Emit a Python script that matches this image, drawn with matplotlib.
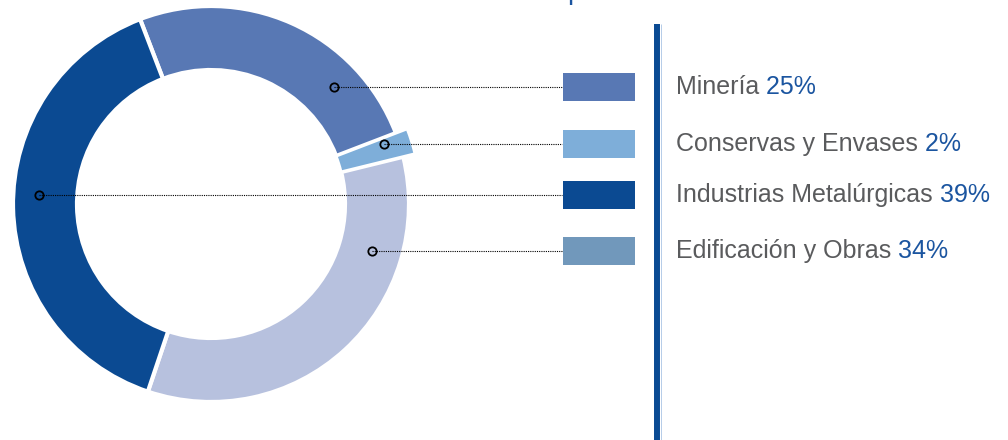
import numpy as np
from matplotlib import pyplot as plt
from matplotlib.patches import Rectangle

plt.rcParams['font.family'] = ['Liberation Sans', 'DejaVu Sans']

# datos (orden de la leyenda)
categorias = ['Minería', 'Conservas y Envases', 'Industrias Metalúrgicas', 'Edificación y Obras']
porcentajes = [25, 2, 39, 34]
# orden en el anillo (sentido horario desde arriba)
orden_anillo = [0, 1, 3, 2]

col_anillo = ['#5878b4', '#7eaed9', '#0b4a92', '#b7c1de']
col_leyenda = ['#5878b4', '#7eaed9', '#0b4a92', '#7198bb']
gris = '#5a5b5d'
azul = '#1b55a0'

fig = plt.figure(figsize=(10.08, 4.4), dpi=100)
ax = fig.add_axes([0, 0, 1, 1])

H = 440
cx, cy = 211, H - 204
R, ancho = 198, 64

vals = [porcentajes[i] for i in orden_anillo]
cols = [col_anillo[i] for i in orden_anillo]
explode = [0, 3, 0, 0]
wedges, _ = ax.pie(vals, colors=cols, startangle=111, counterclock=False,
                   radius=R, center=(cx, cy), explode=explode, frame=True,
                   wedgeprops=dict(width=ancho, edgecolor='white', linewidth=3))
# Conservas sobresale del anillo
w = wedges[1]
w.set_radius(R + 9)
w.set_width(ancho + 12)
w.set_linewidth(2)
w.set_zorder(3)

# leyenda
filas = [87, 144, 195, 251]
r_marca = [170, 183, 172, 168]
lados = [1, 1, -1, 1]
for i, cat in enumerate(categorias):
    yp = filas[i]
    y = H - yp
    dy = y - cy
    mx = cx + lados[i] * np.sqrt(r_marca[i] ** 2 - dy ** 2)
    ax.plot([mx, 562], [y, y], color='black', lw=0.8, ls=(0, (1, 1)), zorder=4)
    ax.plot(mx, y, 'o', mfc='none', mec='black', ms=6, mew=1.3, zorder=5)
    ax.add_patch(Rectangle((563, y - 14), 72, 28, color=col_leyenda[i], lw=0))
    t = ax.text(676, y, cat, color=gris, fontsize=18, va='center', ha='left')
    ax.annotate(' %d%%' % porcentajes[i], xy=(1, 0), xycoords=t,
                color=azul, fontsize=18, va='bottom', ha='left')

# barra vertical
ax.plot([657, 657], [0, H - 24], color='#0a4a93', lw=4.3, solid_capstyle='butt')
ax.plot([660.5, 660.5], [0, H - 24], color='#a9c4e4', lw=0.6, solid_capstyle='butt')

# título recortado en el borde superior
ax.text(567, H + 1, 'p', color=azul, fontsize=20, va='baseline', ha='left')

ax.set_xlim(0, 1008)
ax.set_ylim(0, H)
ax.set_aspect('equal')
ax.axis('off')

plt.savefig('out.png', dpi=100)
